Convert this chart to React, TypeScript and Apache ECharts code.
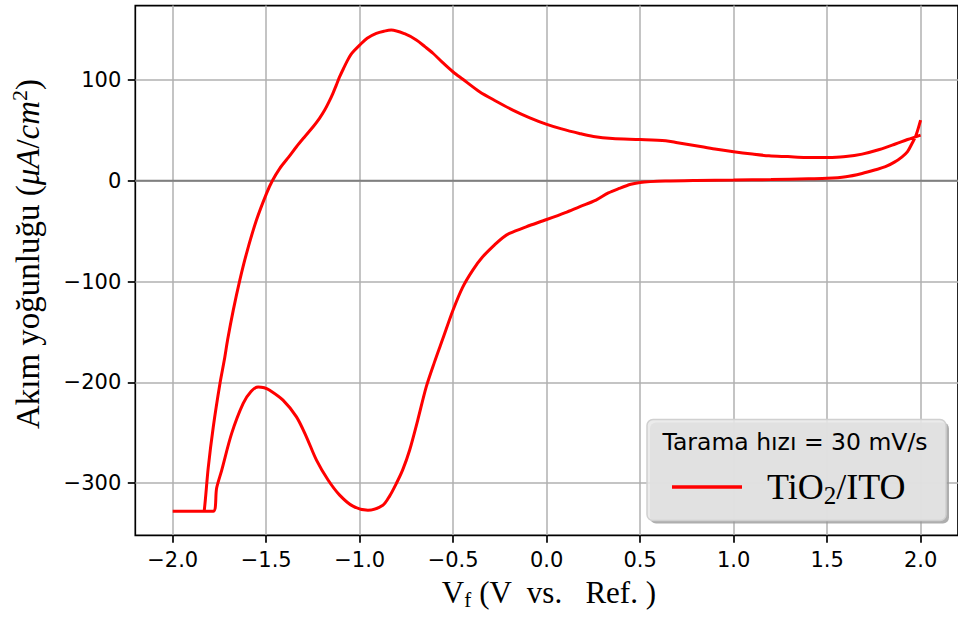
import React, { useEffect, useRef } from "react";
import * as echarts from "echarts";

// Cyclic voltammogram: one continuous scan, starting at +2.0 V on the reverse (upper) branch
const potential: number[] = [
  2.0, 1.93, 1.865, 1.78, 1.687, 1.6, 1.527, 1.45, 1.385, 1.29, 1.189, 1.1, 1.0, 0.9, 0.798, 0.7,
  0.637, 0.5, 0.352, 0.25, 0.175, 0.08, -0.003, -0.09, -0.181, -0.27, -0.359, -0.45, -0.5, -0.56,
  -0.608, -0.65, -0.697, -0.76, -0.831, -0.87, -0.911, -0.96, -1.0, -1.03, -1.048, -1.065, -1.085,
  -1.107, -1.125, -1.143, -1.165, -1.187, -1.215, -1.249, -1.295, -1.338, -1.38, -1.427, -1.467,
  -1.498, -1.552, -1.605, -1.641, -1.676, -1.706, -1.724, -1.747, -1.783, -1.81, -1.831, -1.837,
  -2.0,
  -1.783, -1.765, -1.738, -1.685, -1.623, -1.58, -1.543, -1.51, -1.481, -1.41, -1.338, -1.285,
  -1.231, -1.169, -1.107, -1.036, -0.956, -0.876, -0.84, -0.804, -0.77, -0.733, -0.69, -0.644,
  -0.6, -0.555, -0.5, -0.45, -0.395, -0.342, -0.27, -0.235, -0.199, -0.11, 0.0, 0.1, 0.175, 0.264,
  0.33, 0.388, 0.45, 0.5, 0.637, 0.8, 1.0, 1.2, 1.4, 1.5, 1.6, 1.687, 1.76, 1.812, 1.86, 1.901,
  1.93, 1.954, 1.975, 2.0,
];
const currentDensity: number[] = [
  45.4, 41, 36.5, 31, 26.5, 24, 23.2, 23, 23.2, 24, 24.8, 26.5, 28.8, 31.5, 34.8, 37.8,
  39.7, 41, 42, 44, 47, 51.5, 56.3, 62.5, 70.2, 79, 88.4, 101, 108, 118,
  126.6, 133, 139.8, 146, 149.7, 148.5, 146.3, 141.5, 134.7, 129, 125, 119.5, 112,
  103.3, 95, 86.8, 78, 70.2, 62, 53.6, 43.5, 33.8, 23.5, 12.3, 0,
  -12.5, -39, -72, -98.6, -128.4, -157.6, -178, -201, -244.4, -285, -327, -328,
  -328,
  -328, -305, -287.4, -251, -221, -209, -204.6, -205.5, -207.9, -217.7, -234.3, -254.1,
  -277.3, -297, -312, -323, -327, -322, -313, -300.5, -287, -267.5, -238, -204.6,
  -180, -156.6, -128, -106, -88.7, -75.5, -62.2, -56.5, -52.3, -45.7, -38.4, -31.5, -25.8, -19.2,
  -12, -7.6, -3.5, -1.6, -0.3, 0.3, 0.7, 1.2, 2.0, 2.4, 4, 7.3, 11, 14, 18.5, 23.8,
  29, 37, 45, 60.3,
];

const xTicks: number[] = [-2.0, -1.5, -1.0, -0.5, 0.0, 0.5, 1.0, 1.5, 2.0];
const yTicks: number[] = [-300, -200, -100, 0, 100];
const xRange: number[] = [-2.2, 2.2];
const yRange: number[] = [-351.9, 173.9];
const seriesName = "TiO2/ITO";
const legendTitle = "Tarama hızı = 30 mV/s";

const fmtMinus = (v: number, digits: number) =>
  (v < 0 ? "\u2212" : "") + Math.abs(v).toFixed(digits);

export default function App() {
  const ref = useRef<HTMLDivElement>(null);

  useEffect(() => {
    if (!ref.current) return;
    const chart = echarts.init(ref.current, undefined, { renderer: "svg" });
    const serif = "'Liberation Serif', 'DejaVu Serif', serif";
    const sans = "'DejaVu Sans', sans-serif";
    const data = potential.map((v, i) => [v, currentDensity[i]]);

    chart.setOption({
      animation: false,
      backgroundColor: "#ffffff",
      grid: {
        left: 135.3,
        top: 5.6,
        width: 823.9,
        height: 529.7,
        show: true,
        borderColor: "#000000",
        borderWidth: 1.7,
        backgroundColor: "transparent",
      },
      xAxis: {
        type: "value",
        min: xRange[0],
        max: xRange[1],
        axisLine: { show: false, onZero: false },
        axisTick: {
          show: true,
          customValues: xTicks,
          inside: false,
          length: 7.5,
          lineStyle: { color: "#000", width: 1.7 },
        },
        axisLabel: {
          customValues: xTicks,
          formatter: (v: number) => fmtMinus(v, 1),
          color: "#000",
          fontFamily: sans,
          fontSize: 21,
          margin: 14,
        },
        splitLine: { show: true, lineStyle: { color: "#b0b0b0", width: 1.5 } },
      },
      yAxis: {
        type: "value",
        min: yRange[0],
        max: yRange[1],
        axisLine: { show: false, onZero: false },
        axisTick: {
          show: true,
          customValues: yTicks,
          inside: false,
          length: 7.5,
          lineStyle: { color: "#000", width: 1.7 },
        },
        axisLabel: {
          customValues: yTicks,
          formatter: (v: number) => fmtMinus(v, 0),
          color: "#000",
          fontFamily: sans,
          fontSize: 21,
          margin: 14,
        },
        splitLine: { show: true, lineStyle: { color: "#b0b0b0", width: 1.5 } },
      },
      legend: {
        show: true,
        data: [seriesName],
        left: 667,
        top: 464,
        icon: "rect",
        itemWidth: 70,
        itemHeight: 3.3,
        z: 20,
        selectedMode: false,
        formatter: () => "{a|TiO}{s|2}{a|/ITO}",
        textStyle: {
          color: "#000",
          padding: [0, 0, 0, 20],
          rich: {
            a: { fontFamily: serif, fontSize: 36, color: "#000", lineHeight: 42 },
            s: {
              fontFamily: serif,
              fontSize: 25,
              color: "#000",
              lineHeight: 42,
              verticalAlign: "bottom",
            },
          },
        },
      },
      graphic: [
        {
          type: "rect",
          z: 10,
          silent: true,
          shape: { x: 650, y: 422.5, width: 299, height: 101, r: 6 },
          style: { fill: "#9a9a9a", opacity: 0.8 },
        },
        {
          type: "rect",
          z: 11,
          silent: true,
          shape: { x: 647, y: 419.5, width: 299, height: 101, r: 6 },
          style: { fill: "rgba(232,232,232,0.88)", stroke: "#d0d0d0", lineWidth: 1.5 },
        },
        {
          type: "text",
          z: 12,
          silent: true,
          x: 795,
          y: 442,
          style: {
            text: legendTitle,
            fontFamily: sans,
            fontSize: 23.5,
            fill: "#000",
            align: "center",
            verticalAlign: "middle",
          },
        },
        {
          type: "text",
          z: 12,
          silent: true,
          x: 549,
          y: 592,
          style: {
            text: "{r|V}{s|f}{r| (V  vs.   Ref. )}",
            align: "center",
            verticalAlign: "middle",
            rich: {
              r: { fontFamily: serif, fontSize: 31, fill: "#000", lineHeight: 36 },
              s: {
                fontFamily: serif,
                fontSize: 21,
                fill: "#000",
                lineHeight: 36,
                verticalAlign: "bottom",
              },
            },
          },
        },
        {
          type: "text",
          z: 12,
          silent: true,
          x: 28,
          y: 254,
          rotation: Math.PI / 2,
          style: {
            text: "{r|Akım yoğunluğu (}{i|μA}{r|/}{i|cm}{p|2}{r|)}",
            align: "center",
            verticalAlign: "middle",
            rich: {
              r: { fontFamily: serif, fontSize: 33, fill: "#000", lineHeight: 40 },
              i: {
                fontFamily: serif,
                fontStyle: "italic",
                fontSize: 33,
                fill: "#000",
                lineHeight: 40,
              },
              p: {
                fontFamily: serif,
                fontSize: 22,
                fill: "#000",
                lineHeight: 40,
                verticalAlign: "top",
              },
            },
          },
        },
      ],
      series: [
        {
          name: "zero",
          type: "line",
          data: [
            [xRange[0], 0],
            [xRange[1], 0],
          ],
          showSymbol: false,
          symbol: "none",
          silent: true,
          lineStyle: { color: "#808080", width: 2 },
          z: 1,
        },
        {
          name: seriesName,
          type: "line",
          data,
          showSymbol: false,
          symbol: "none",
          smooth: 0.3,
          lineStyle: { color: "#ff0000", width: 3 },
          itemStyle: { color: "#ff0000" },
          z: 3,
        },
      ],
    });

    return () => chart.dispose();
  }, []);

  return (
    <div
      ref={ref}
      style={{ position: "fixed", left: 0, top: 0, width: 958, height: 621, background: "#fff" }}
    />
  );
}
